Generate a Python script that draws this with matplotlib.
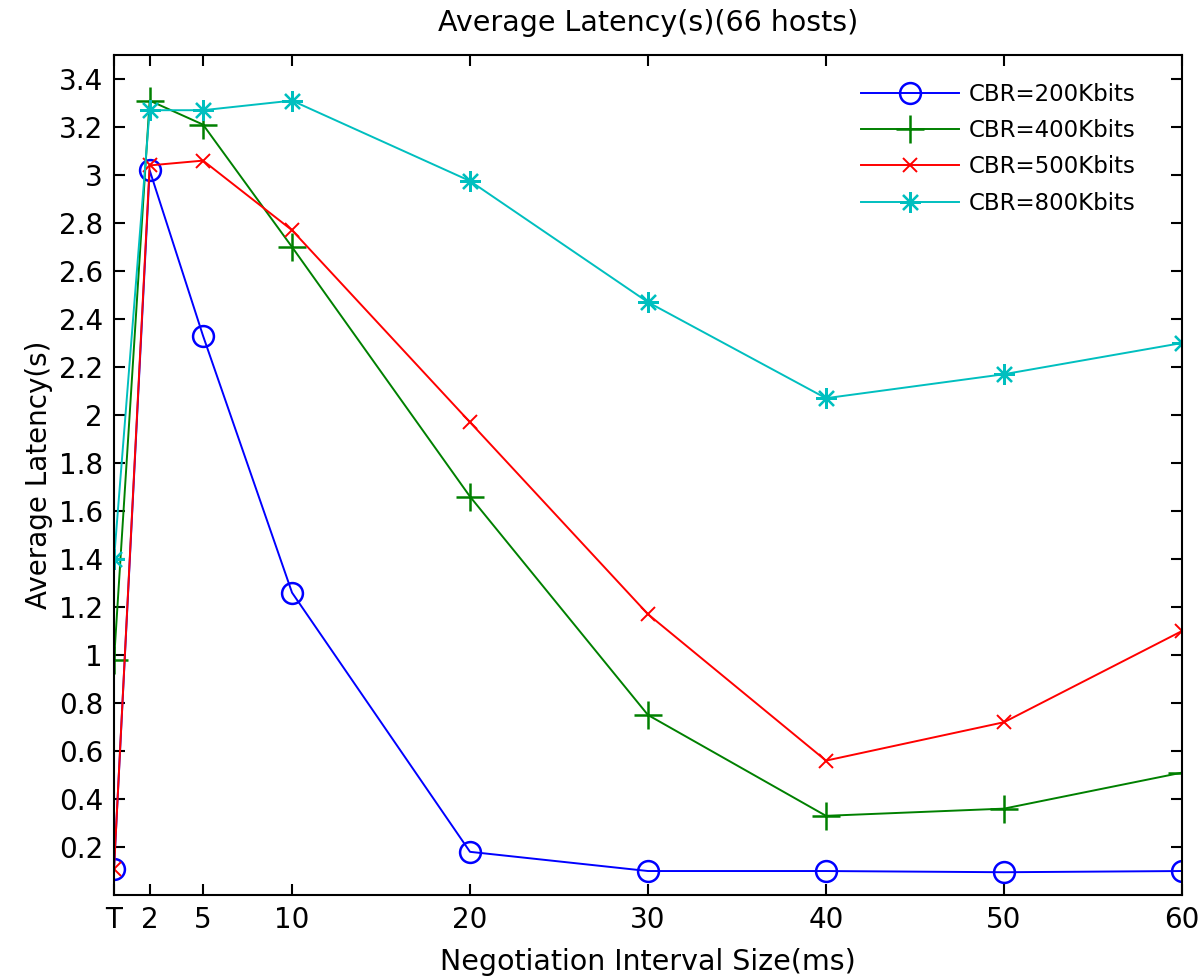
import matplotlib
matplotlib.use("Agg")
import matplotlib.pyplot as plt

# x positions (T = 0) and tick labels
x_vals = [0, 2, 5, 10, 20, 30, 40, 50, 60]
x_labels = ["T", "2", "5", "10", "20", "30", "40", "50", "60"]

cbr_200 = [0.11, 3.02, 2.33, 1.26, 0.18, 0.10, 0.10, 0.095, 0.10]
cbr_400 = [0.98, 3.31, 3.21, 2.70, 1.66, 0.75, 0.33, 0.36, 0.51]
cbr_500 = [0.11, 3.04, 3.06, 2.77, 1.97, 1.17, 0.56, 0.72, 1.10]
cbr_800 = [1.40, 3.27, 3.27, 3.31, 2.975, 2.47, 2.07, 2.17, 2.30]

y_ticks = [0.2, 0.4, 0.6, 0.8, 1, 1.2, 1.4, 1.6, 1.8, 2, 2.2, 2.4, 2.6, 2.8, 3, 3.2, 3.4]

plt.rcParams["font.family"] = ["DejaVu Sans"]

fig = plt.figure(figsize=(11.98, 9.77), dpi=100)
ax = fig.add_axes([0.0952, 0.0839, 0.8914, 0.8598])

ax.plot(x_vals, cbr_200, color="#0000ff", marker="o", markersize=15,
        markerfacecolor="none", markeredgewidth=1.8, linewidth=1.4, label="CBR=200Kbits")
ax.plot(x_vals, cbr_400, color="#008000", marker="+", markersize=20,
        markeredgewidth=1.8, linewidth=1.4, label="CBR=400Kbits")
ax.plot(x_vals, cbr_500, color="#ff0000", marker="x", markersize=10,
        markeredgewidth=1.4, linewidth=1.4, label="CBR=500Kbits")
ax.plot(x_vals, cbr_800, color="#00bfbf", marker=(8, 2, 0), markersize=15,
        markeredgewidth=1.6, linewidth=1.4, label="CBR=800Kbits")

ax.set_xlim(0, 60)
ax.set_ylim(0, 3.5)
ax.set_xticks(x_vals)
ax.set_xticklabels(x_labels)
ax.set_yticks(y_ticks)
ax.set_yticklabels([f"{v:g}" for v in y_ticks])

ax.tick_params(direction="in", top=True, right=True, length=8, width=1.5,
               labelsize=20, colors="black", pad=8)
for s in ax.spines.values():
    s.set_linewidth(1.5)

ax.set_title("Average Latency(s)(66 hosts)", fontsize=20.5, pad=17)
ax.set_xlabel("Negotiation Interval Size(ms)", fontsize=20.5, labelpad=10)
ax.set_ylabel("Average Latency(s)", fontsize=20, labelpad=4)

ax.legend(loc="upper right", bbox_to_anchor=(0.965, 0.978), frameon=False,
          fontsize=16.5, handlelength=4.3, borderaxespad=0, labelspacing=0.58,
          handletextpad=0.4)

fig.savefig("out.png", dpi=100)
